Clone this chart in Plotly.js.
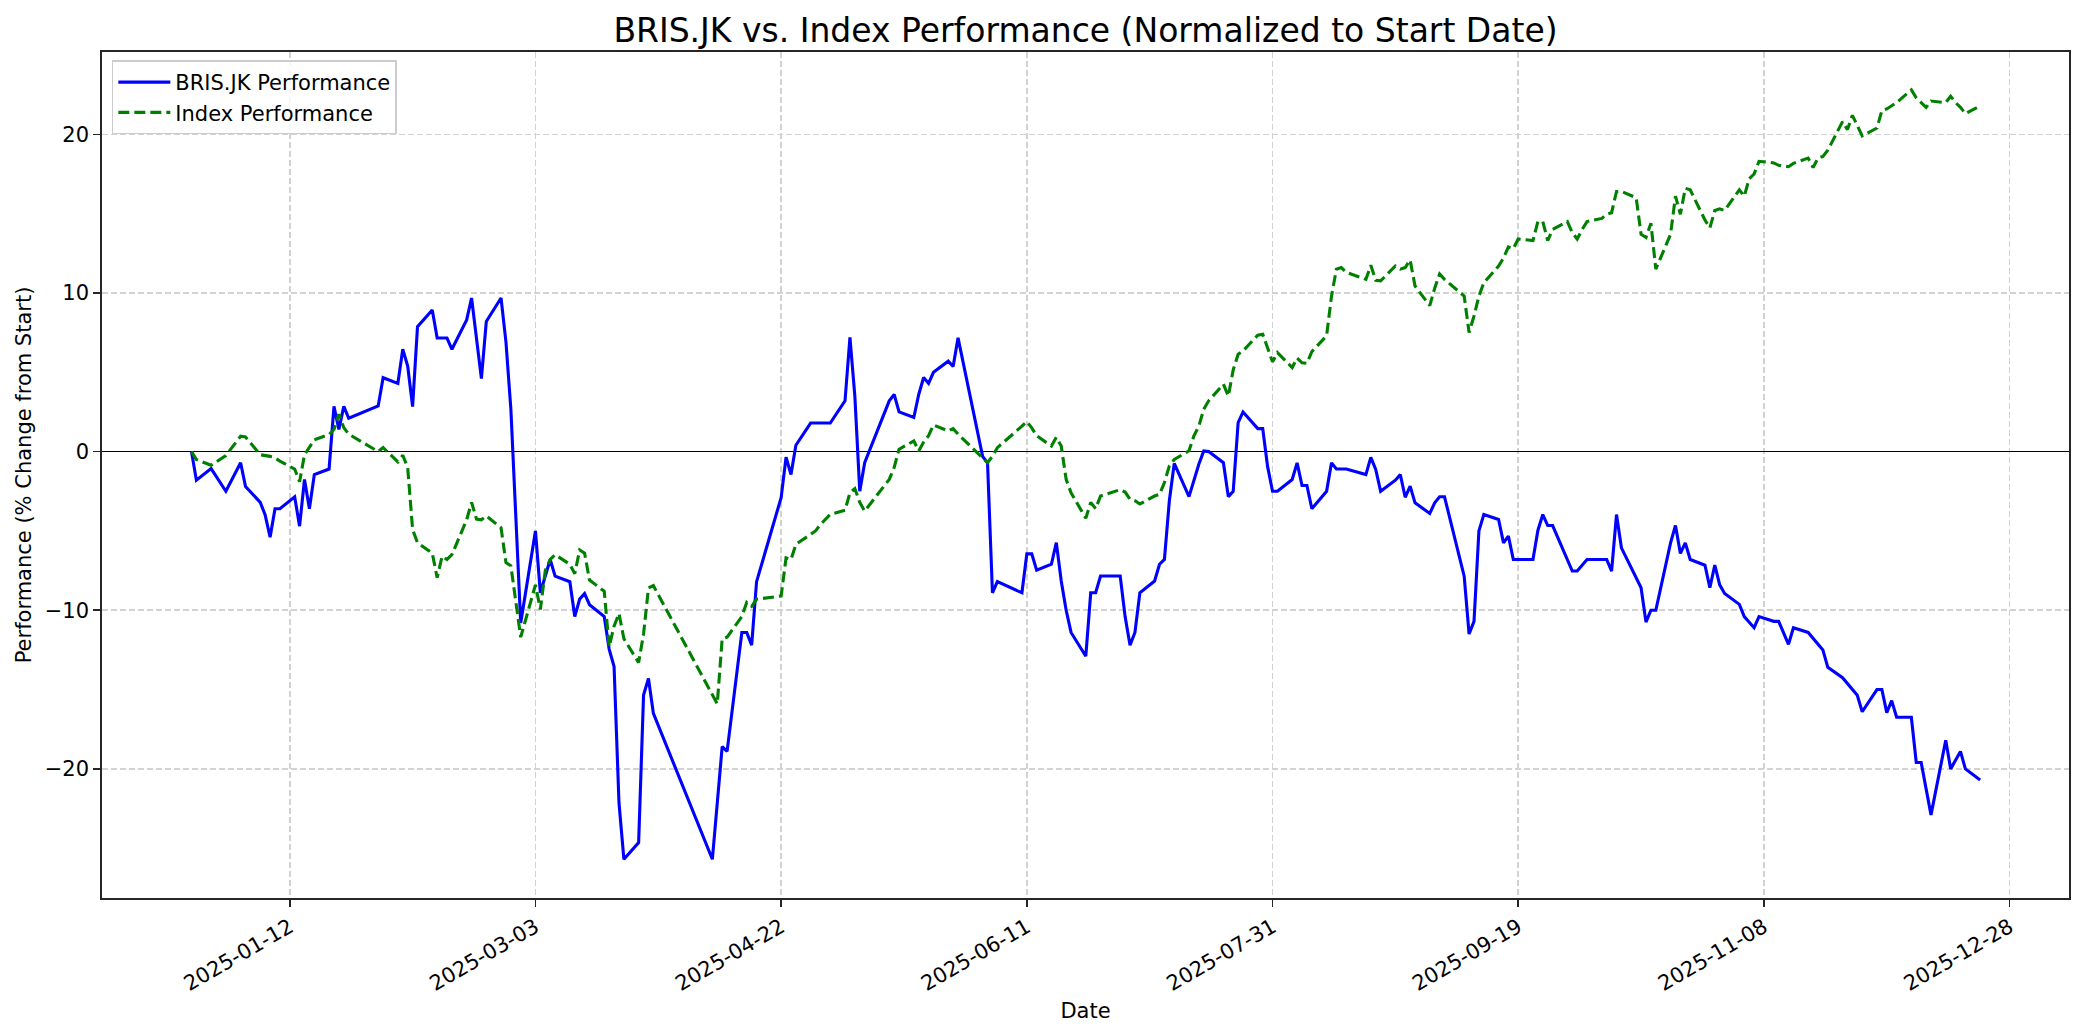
<!DOCTYPE html>
<html>
<head>
<meta charset="utf-8">
<script src="https://cdn.plot.ly/plotly-3.0.1.min.js"></script>
<style>html,body{margin:0;padding:0;background:#fff;}#chart{width:2084px;height:1035px;}</style>
</head>
<body>
<div id="chart"></div>
<script>
// BRIS.JK performance (% change from start), vertices
const brisDates = [
"2024-12-23","2024-12-24","2024-12-27","2024-12-30","2025-01-02","2025-01-03","2025-01-06","2025-01-07","2025-01-08","2025-01-09","2025-01-10",
"2025-01-13","2025-01-14","2025-01-15","2025-01-16","2025-01-17","2025-01-20","2025-01-21","2025-01-22","2025-01-23","2025-01-24",
"2025-01-30","2025-01-31","2025-02-03","2025-02-04","2025-02-05","2025-02-06","2025-02-07","2025-02-10","2025-02-11","2025-02-13","2025-02-14",
"2025-02-17","2025-02-18","2025-02-20","2025-02-21","2025-02-24","2025-02-25","2025-02-26","2025-02-28",
"2025-03-03","2025-03-04","2025-03-06","2025-03-07","2025-03-10","2025-03-11","2025-03-12","2025-03-13","2025-03-14",
"2025-03-17","2025-03-18","2025-03-19","2025-03-20","2025-03-21","2025-03-24","2025-03-25","2025-03-26","2025-03-27",
"2025-04-08","2025-04-10","2025-04-11","2025-04-14","2025-04-15","2025-04-16","2025-04-17","2025-04-22","2025-04-23","2025-04-24","2025-04-25",
"2025-04-28","2025-05-02","2025-05-05","2025-05-06","2025-05-07","2025-05-08","2025-05-09","2025-05-14","2025-05-15","2025-05-16",
"2025-05-19","2025-05-20","2025-05-21","2025-05-22","2025-05-23","2025-05-26","2025-05-27","2025-05-28",
"2025-06-02","2025-06-03","2025-06-04","2025-06-05","2025-06-10","2025-06-11","2025-06-12","2025-06-13",
"2025-06-16","2025-06-17","2025-06-18","2025-06-19","2025-06-20","2025-06-23","2025-06-24","2025-06-25","2025-06-26",
"2025-06-30","2025-07-01","2025-07-02","2025-07-03","2025-07-04","2025-07-07","2025-07-08","2025-07-09","2025-07-10","2025-07-11",
"2025-07-14","2025-07-15","2025-07-16","2025-07-17","2025-07-18","2025-07-21","2025-07-22","2025-07-23","2025-07-24","2025-07-25",
"2025-07-28","2025-07-29","2025-07-30","2025-07-31","2025-08-01","2025-08-04","2025-08-05","2025-08-06","2025-08-07","2025-08-08",
"2025-08-11","2025-08-12","2025-08-13","2025-08-14","2025-08-15","2025-08-19","2025-08-20","2025-08-21","2025-08-22",
"2025-08-25","2025-08-26","2025-08-27","2025-08-28","2025-08-29","2025-09-01","2025-09-02","2025-09-03","2025-09-04",
"2025-09-08","2025-09-09","2025-09-10","2025-09-11","2025-09-12","2025-09-15","2025-09-16","2025-09-17","2025-09-18","2025-09-19",
"2025-09-22","2025-09-23","2025-09-24","2025-09-25","2025-09-26","2025-09-30","2025-10-01","2025-10-03","2025-10-06","2025-10-07",
"2025-10-08","2025-10-09","2025-10-10","2025-10-14","2025-10-15","2025-10-16","2025-10-17","2025-10-20","2025-10-21","2025-10-22",
"2025-10-23","2025-10-24","2025-10-27","2025-10-28","2025-10-29","2025-10-30","2025-10-31","2025-11-03","2025-11-04","2025-11-06",
"2025-11-07","2025-11-10","2025-11-11","2025-11-13","2025-11-14","2025-11-17","2025-11-20","2025-11-21","2025-11-24","2025-11-27",
"2025-11-28","2025-12-01","2025-12-02","2025-12-03","2025-12-04","2025-12-05","2025-12-08","2025-12-09","2025-12-10","2025-12-12",
"2025-12-15","2025-12-16","2025-12-18","2025-12-19","2025-12-22"
];
const brisValues = [
0,-1.8,-1.07,-2.5,-0.7,-2.2,-3.2,-4.0,-5.4,-3.6,-3.6,
-2.85,-4.7,-1.76,-3.6,-1.45,-1.1,2.85,1.4,2.85,2.1,
2.88,4.66,4.3,6.45,5.4,2.84,7.88,8.93,7.16,7.16,6.45,
8.3,9.68,4.6,8.2,9.68,6.9,2.67,-10.8,
-5.0,-8.9,-6.8,-7.85,-8.2,-10.4,-9.3,-8.95,-9.65,
-10.4,-12.45,-13.55,-22.15,-25.7,-24.65,-15.35,-14.3,-16.5,
-25.7,-18.6,-18.9,-11.4,-11.4,-12.2,-8.2,-2.9,-0.35,-1.45,0.4,
1.8,1.8,3.2,7.2,3.5,-2.5,-0.7,3.2,3.6,2.5,
2.15,3.6,4.67,4.3,5.0,5.7,5.36,7.17,
-0.3,-0.7,-8.9,-8.2,-8.9,-6.45,-6.45,-7.47,
-7.1,-5.74,-8.16,-10.0,-11.4,-12.9,-8.9,-8.9,-7.84,
-7.84,-10.4,-12.2,-11.4,-8.9,-8.16,-7.1,-6.8,-3.1,-0.74,
-2.84,-1.8,-0.8,0.04,0.0,-0.7,-2.84,-2.5,1.83,2.5,
1.45,1.45,-0.95,-2.5,-2.5,-1.76,-0.71,-2.14,-2.14,-3.6,
-2.5,-0.71,-1.1,-1.1,-1.1,-1.45,-0.36,-1.13,-2.5,
-1.8,-1.45,-2.88,-2.18,-3.23,-3.9,-3.23,-2.85,-2.85,
-7.85,-11.5,-10.7,-5.0,-3.97,-4.28,-5.75,-5.33,-6.8,-6.8,
-6.8,-4.97,-3.97,-4.66,-4.66,-7.53,-7.53,-6.8,-6.8,-6.8,
-7.53,-3.97,-6.07,-8.58,-10.75,-10.0,-10.0,-5.75,-4.66,-6.42,
-5.75,-6.8,-7.16,-8.58,-7.16,-8.4,-8.94,-9.63,-10.4,-11.1,
-10.4,-10.7,-10.7,-12.15,-11.1,-11.4,-12.5,-13.6,-14.25,-15.36,
-16.4,-15.0,-15.0,-16.45,-15.7,-16.75,-16.75,-19.6,-19.6,-22.9,
-18.2,-20.0,-18.9,-20.0,-20.7
];

// Index performance (% change from start)
const indexDates = [
"2024-12-23","2024-12-24","2024-12-27","2024-12-30","2025-01-02","2025-01-03","2025-01-06","2025-01-08","2025-01-09","2025-01-10",
"2025-01-13","2025-01-14","2025-01-15","2025-01-16","2025-01-17","2025-01-20","2025-01-21","2025-01-22","2025-01-23","2025-01-24",
"2025-01-30","2025-01-31","2025-02-03","2025-02-04","2025-02-05","2025-02-06","2025-02-07","2025-02-10","2025-02-11","2025-02-12",
"2025-02-13","2025-02-14","2025-02-17","2025-02-18","2025-02-19","2025-02-20","2025-02-21","2025-02-24","2025-02-25","2025-02-26","2025-02-28",
"2025-03-03","2025-03-04","2025-03-05","2025-03-06","2025-03-07","2025-03-10","2025-03-11","2025-03-12","2025-03-13","2025-03-14",
"2025-03-17","2025-03-18","2025-03-19","2025-03-20","2025-03-21","2025-03-24","2025-03-25","2025-03-26","2025-03-27",
"2025-04-09","2025-04-10","2025-04-11","2025-04-14","2025-04-15","2025-04-16","2025-04-17","2025-04-21","2025-04-22","2025-04-23","2025-04-24",
"2025-04-25","2025-04-28","2025-04-29","2025-04-30","2025-05-02","2025-05-05","2025-05-06","2025-05-07","2025-05-08","2025-05-09",
"2025-05-14","2025-05-15","2025-05-16","2025-05-19","2025-05-20","2025-05-21","2025-05-22","2025-05-23","2025-05-26","2025-05-27","2025-05-28",
"2025-06-02","2025-06-03","2025-06-04","2025-06-05","2025-06-10","2025-06-11","2025-06-12","2025-06-13","2025-06-16","2025-06-17","2025-06-18",
"2025-06-19","2025-06-20","2025-06-23","2025-06-24","2025-06-25","2025-06-26","2025-06-30","2025-07-01","2025-07-02","2025-07-03","2025-07-04",
"2025-07-07","2025-07-08","2025-07-09","2025-07-10","2025-07-11","2025-07-14","2025-07-15","2025-07-16","2025-07-17","2025-07-18",
"2025-07-21","2025-07-22","2025-07-23","2025-07-24","2025-07-25","2025-07-28","2025-07-29","2025-07-30","2025-07-31","2025-08-01",
"2025-08-04","2025-08-05","2025-08-06","2025-08-07","2025-08-08","2025-08-11","2025-08-12","2025-08-13","2025-08-14","2025-08-15",
"2025-08-19","2025-08-20","2025-08-21","2025-08-22","2025-08-25","2025-08-26","2025-08-27","2025-08-28","2025-08-29",
"2025-09-01","2025-09-02","2025-09-03","2025-09-04","2025-09-08","2025-09-09","2025-09-10","2025-09-11","2025-09-12",
"2025-09-15","2025-09-16","2025-09-17","2025-09-18","2025-09-19","2025-09-22","2025-09-23","2025-09-24","2025-09-25","2025-09-26",
"2025-09-29","2025-09-30","2025-10-01","2025-10-02","2025-10-03","2025-10-06","2025-10-07","2025-10-08","2025-10-09","2025-10-10",
"2025-10-13","2025-10-14","2025-10-15","2025-10-16","2025-10-17","2025-10-20","2025-10-21","2025-10-22","2025-10-23","2025-10-24",
"2025-10-27","2025-10-28","2025-10-29","2025-10-30","2025-10-31","2025-11-03","2025-11-04","2025-11-05","2025-11-06","2025-11-07",
"2025-11-10","2025-11-11","2025-11-12","2025-11-13","2025-11-14","2025-11-17","2025-11-18","2025-11-19","2025-11-20","2025-11-21",
"2025-11-24","2025-11-25","2025-11-26","2025-11-27","2025-11-28","2025-12-01","2025-12-02","2025-12-03","2025-12-04","2025-12-05",
"2025-12-08","2025-12-09","2025-12-10","2025-12-11","2025-12-12","2025-12-15","2025-12-16","2025-12-17","2025-12-18","2025-12-19","2025-12-22"
];
const indexValues = [
0,-0.5,-0.86,-0.25,0.97,0.92,-0.2,-0.3,-0.4,-0.6,
-1.1,-1.9,-0.2,0.3,0.75,1.07,1.4,2.35,1.5,1.1,
0.0,0.25,-0.65,-0.23,-1.0,-4.9,-5.75,-6.4,-7.95,-6.6,
-6.8,-6.5,-4.3,-3.2,-4.25,-4.3,-4.05,-4.8,-7.0,-7.2,-11.7,
-8.4,-9.95,-7.5,-6.8,-6.5,-7.1,-7.7,-6.2,-6.4,-8.1,
-8.8,-12.3,-11.0,-10.2,-11.8,-13.3,-11.5,-8.6,-8.45,
-15.9,-11.8,-11.7,-10.4,-9.5,-9.75,-9.3,-9.15,-9.1,-6.7,-6.8,
-5.85,-5.2,-5.0,-4.6,-3.95,-3.7,-2.6,-2.33,-3.2,-3.75,
-1.75,-1.0,0.15,0.67,0.04,0.6,1.0,1.68,1.3,1.45,1.1,
-0.4,-0.7,-0.3,0.25,1.6,1.9,1.5,1.0,0.35,0.9,0.35,
-1.75,-2.6,-4.2,-3.2,-3.6,-2.8,-2.4,-2.55,-3.0,-3.1,-3.3,
-2.8,-2.7,-1.95,-0.9,-0.5,0.05,1.0,1.6,2.67,3.2,
4.25,3.5,5.15,6.14,6.35,7.34,7.4,6.5,5.66,6.24,
5.3,5.9,5.6,5.57,6.3,7.3,9.8,11.5,11.6,11.3,
10.86,11.74,10.8,10.76,11.7,11.5,11.6,12.08,10.44,
9.2,10.3,11.2,10.86,9.8,7.5,8.55,9.8,10.65,
11.7,12.2,12.9,12.8,13.4,13.3,14.5,14.5,13.3,14.0,
14.5,13.8,13.4,14.0,14.5,14.7,14.96,15.06,16.4,16.4,
16.0,13.7,13.5,14.4,11.5,13.7,16.1,14.96,16.6,16.5,
14.6,14.1,15.2,15.3,15.2,16.5,16.1,17.2,17.5,18.3,
18.2,18.05,18.0,17.96,18.17,18.5,17.9,18.5,18.6,19.0,
20.8,20.3,21.2,20.5,19.9,20.4,21.5,21.6,21.8,22.0,
22.8,22.3,22.0,21.7,22.1,22.0,22.4,22.0,21.7,21.3,21.8
];

const titleText = "BRIS.JK vs. Index Performance (Normalized to Start Date)";
const brisName = "BRIS.JK Performance";
const indexName = "Index Performance";
const xTitle = "Date";
const yTitle = "Performance (% Change from Start)";

const FONT = "DejaVu Sans, Liberation Sans, Arial, sans-serif";

const traces = [
  {x: brisDates, y: brisValues, type: "scatter", mode: "lines", name: brisName,
   line: {color: "#0000ff", width: 3.1}},
  {x: indexDates, y: indexValues, type: "scatter", mode: "lines", name: indexName,
   line: {color: "#008000", width: 3.1, dash: "11px,5px"}}
];

const axisCommon = {
  showline: true, linecolor: "#262626", linewidth: 1.7, mirror: true,
  ticks: "outside", ticklen: 7, tickwidth: 1.6, tickcolor: "#262626",
  showgrid: true, gridcolor: "#d2d2d2", gridwidth: 1.5, griddash: "6px,3px",
  tickfont: {family: FONT, size: 21, color: "#000"}
};

const layout = {
  width: 2084, height: 1035, autosize: false,
  margin: {l: 102, r: 15, t: 52, b: 137, pad: 0},
  paper_bgcolor: "#ffffff", plot_bgcolor: "#ffffff",
  font: {family: FONT, size: 21, color: "#000"},
  title: {text: titleText, font: {family: FONT, size: 33, color: "#000"},
          x: 0.5, xref: "paper", xanchor: "center", y: 0.971, yref: "container", yanchor: "middle"},
  xaxis: Object.assign({}, axisCommon, {
    type: "date",
    range: ["2024-12-04 19:00", "2026-01-09 02:00"],
    tickmode: "linear", tick0: "2025-01-12", dtick: 50 * 86400000,
    tickformat: "%Y-%m-%d", tickangle: -30,
    zeroline: false,
    title: {text: xTitle, font: {family: FONT, size: 21, color: "#000"}, standoff: 8}
  }),
  yaxis: Object.assign({}, axisCommon, {
    range: [-28.14, 25.19],
    tickmode: "linear", tick0: 0, dtick: 10,
    zeroline: true, zerolinecolor: "#000000", zerolinewidth: 1.4,
    title: {text: yTitle, font: {family: FONT, size: 21, color: "#000"}, standoff: 7}
  }),
  showlegend: true,
  legend: {x: 0.005, y: 0.99, xanchor: "left", yanchor: "top",
           bgcolor: "rgba(255,255,255,0.8)", bordercolor: "#cccccc", borderwidth: 1.5,
           itemwidth: 52,
           font: {family: FONT, size: 21, color: "#000"}, tracegroupgap: 0}
};

Plotly.newPlot("chart", traces, layout, {displayModeBar: false, staticPlot: true});
</script>
</body>
</html>
